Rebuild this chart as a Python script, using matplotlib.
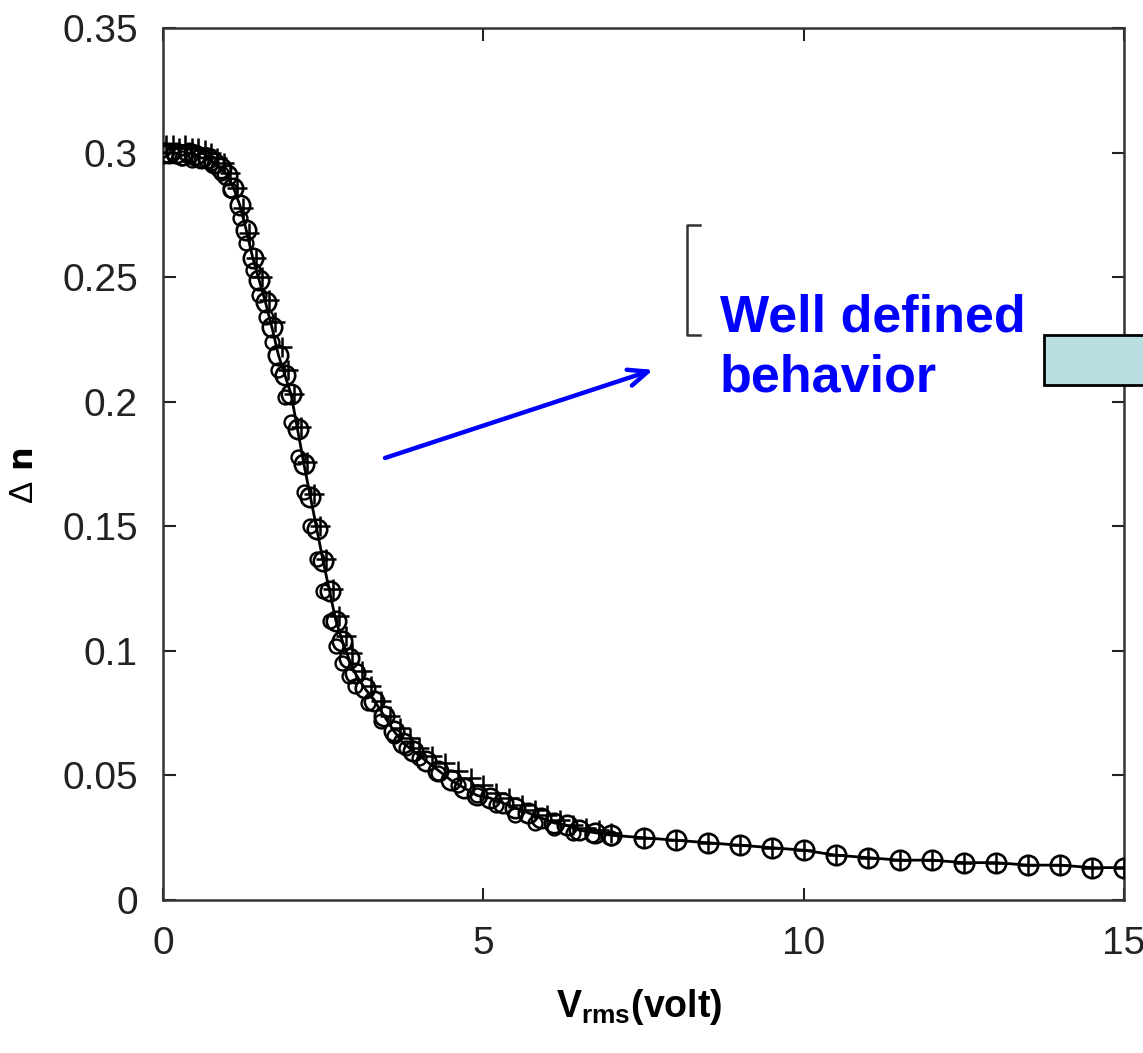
import matplotlib
matplotlib.use('Agg')
from matplotlib import pyplot as plt
from matplotlib.patches import Rectangle
from matplotlib.lines import Line2D

plt.rcParams['font.family'] = ['Liberation Sans Narrow', 'Liberation Sans', 'DejaVu Sans']
plt.rcParams['mathtext.fontset'] = 'custom'
plt.rcParams['mathtext.rm'] = 'Liberation Sans'
plt.rcParams['mathtext.bf'] = 'Liberation Sans:bold'

# series 1: open circles joined by a line
v1 = [0.0, 0.1, 0.2, 0.3, 0.4, 0.5, 0.6, 0.7, 0.8, 0.9, 1.0, 1.1, 1.2, 1.3, 1.4, 1.5,
      1.6, 1.7, 1.8, 1.9, 2.0, 2.1, 2.2, 2.3, 2.4, 2.5, 2.6, 2.7, 2.8, 2.9, 3.0,
      3.15, 3.3, 3.45, 3.6, 3.75, 3.9, 4.1, 4.3, 4.5, 4.7, 4.9, 5.1, 5.3, 5.5, 5.7,
      5.9, 6.1, 6.3, 6.5, 6.75, 7.0, 7.5, 8.0, 8.5, 9.0, 9.5, 10.0, 10.5, 11.0,
      11.5, 12.0, 12.5, 13.0, 13.5, 14.0, 14.5, 15.0]
dn1 = [0.300, 0.300, 0.300, 0.299, 0.300, 0.299, 0.298, 0.298, 0.296, 0.294,
       0.291, 0.286, 0.279, 0.269, 0.258, 0.249, 0.240, 0.230, 0.219, 0.211,
       0.203, 0.189, 0.175, 0.162, 0.149, 0.136, 0.124, 0.112, 0.104, 0.097,
       0.091, 0.085, 0.080, 0.074, 0.068, 0.063, 0.060, 0.056, 0.052, 0.048,
       0.045, 0.042, 0.041, 0.039, 0.037, 0.035, 0.033, 0.031, 0.030, 0.028,
       0.027, 0.026, 0.025, 0.024, 0.023, 0.022, 0.021, 0.020, 0.018, 0.017,
       0.016, 0.016, 0.015, 0.015, 0.014, 0.014, 0.013, 0.013]

# series 2: plus markers
v2 = [0.05, 0.15, 0.25, 0.35, 0.45, 0.55, 0.65, 0.75, 0.85, 0.95, 1.05, 1.15,
      1.25, 1.35, 1.45, 1.55, 1.65, 1.75, 1.85, 1.95, 2.05, 2.15, 2.25, 2.35,
      2.45, 2.55, 2.65, 2.75, 2.85, 2.95, 3.1, 3.25, 3.4, 3.55, 3.7, 3.85, 4.0,
      4.2, 4.4, 4.6, 4.8, 5.0, 5.2, 5.4, 5.6, 5.8, 6.0, 6.2, 6.4, 6.6, 6.8, 7.0,
      7.5, 8.0, 8.5, 9.0, 9.5, 10.0, 10.5, 11.0, 11.5, 12.0, 12.5, 13.0, 13.5,
      14.0, 14.5, 15.0]
dn2 = [0.303, 0.303, 0.302, 0.303, 0.302, 0.302, 0.301, 0.300, 0.298, 0.296,
       0.292, 0.286, 0.278, 0.268, 0.258, 0.250, 0.241, 0.232, 0.222, 0.213,
       0.203, 0.190, 0.176, 0.163, 0.150, 0.137, 0.125, 0.114, 0.106, 0.099,
       0.092, 0.086, 0.080, 0.074, 0.069, 0.065,
       0.061, 0.058, 0.055, 0.052, 0.049, 0.046, 0.043, 0.041, 0.038, 0.036,
       0.034, 0.032, 0.030, 0.029, 0.028, 0.027,
       0.025, 0.024, 0.023, 0.022, 0.021, 0.020, 0.018, 0.017, 0.016, 0.016,
       0.015, 0.015, 0.014, 0.014, 0.013, 0.013]

# series 3: small open circles
v3 = [0.0, 0.15, 0.3, 0.45, 0.6, 0.75, 0.9, 1.05, 1.2, 1.3, 1.4, 1.5, 1.6, 1.7,
      1.8, 1.9, 2.0, 2.1, 2.2, 2.3, 2.4, 2.5, 2.6, 2.7, 2.8, 2.9, 3.0, 3.2, 3.4,
      3.6, 3.8, 4.0, 4.3, 4.6, 4.9, 5.2, 5.5, 5.8, 6.1, 6.4, 6.7, 7.0]
dn3 = [0.301, 0.300, 0.298, 0.297, 0.297, 0.296, 0.292, 0.285,
       0.274, 0.264, 0.253, 0.243, 0.234, 0.224, 0.213, 0.202, 0.192, 0.178,
       0.164, 0.150, 0.137, 0.124, 0.112, 0.102, 0.095, 0.090, 0.086,
       0.079, 0.072, 0.066, 0.061, 0.057,
       0.051, 0.046, 0.042, 0.038, 0.034, 0.031, 0.029, 0.027, 0.026, 0.025]

xticks = [0, 5, 10, 15]
yticks = [0, 0.05, 0.1, 0.15, 0.2, 0.25, 0.3, 0.35]
ytick_labels = ['0', '0.05', '0.1', '0.15', '0.2', '0.25', '0.3', '0.35']

fig = plt.figure(figsize=(11.43, 10.53), dpi=100)
ax = fig.add_axes([0.1426, 0.1453, 0.8408, 0.8277])

ax.plot(v1, dn1, '-o', color='black', lw=2, ms=14, mfc='none', mew=1.9, zorder=3)
ax.plot(v3, dn3, 'o', color='black', ms=10, mfc='none', mew=1.7, zorder=3)
ax.plot(v2, dn2, '+', color='black', ms=15, mew=1.8, zorder=4)

ax.set_xlim(0, 15)
ax.set_ylim(0, 0.35)
ax.set_xticks(xticks)
ax.set_yticks(yticks)
ax.set_yticklabels(ytick_labels)
ax.tick_params(direction='in', length=9, width=1.5, top=True, right=True,
               labelsize=28, colors='#222222')
ax.tick_params(axis='x', pad=19)
ax.tick_params(axis='y', pad=18)
for s in ax.spines.values():
    s.set_linewidth(1.8)
    s.set_color('#333333')

ax.set_xlabel(r'V$_{\mathbf{rms}}$(volt)', fontsize=27, fontweight='bold')
ax.xaxis.set_label_coords(0.496, -0.100)
ax.set_ylabel(r'$\Delta$ n', fontsize=24, fontweight='bold',
              family=['DejaVu Sans'])
ax.yaxis.set_label_coords(-0.128, 0.487)

# annotation
ax.annotate('', xy=(7.65, 0.2129), xytext=(3.465, 0.1775),
            arrowprops=dict(arrowstyle='->, head_length=1.4, head_width=0.6',
                            color='#0000ff', lw=3.2, shrinkA=0, shrinkB=0))
ax.text(8.69, 0.1996, 'Well defined\nbehavior', color='#0000ff', fontsize=37.5,
        fontweight='bold', family=['Liberation Sans', 'DejaVu Sans'],
        ha='left', va='bottom', linespacing=1.3, zorder=5)

# bracket
W, H = 1143.0, 1053.0
bx = [700 / W, 687 / W, 687 / W, 700 / W]
by = [1 - 225 / H, 1 - 225 / H, 1 - 335 / H, 1 - 335 / H]
fig.add_artist(Line2D(bx, by, color='#333333', lw=1.8, transform=fig.transFigure))

# cyan box at the right edge
fig.add_artist(Rectangle((1044 / W, 1 - 385 / H), 0.12, 50 / H, transform=fig.transFigure,
                         facecolor='#b9dfe2', edgecolor='black', lw=2, zorder=10))

fig.savefig('out.png', dpi=100)
